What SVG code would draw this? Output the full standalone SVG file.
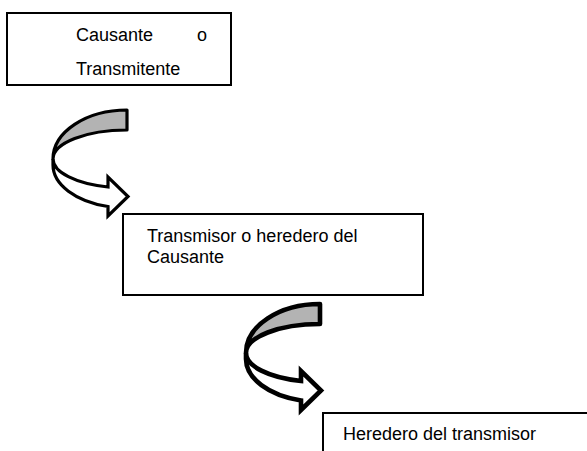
<svg xmlns="http://www.w3.org/2000/svg" width="587" height="451" viewBox="0 0 587 451">
<defs>
<style>
.box{fill:#fff;stroke:#000;stroke-width:2}
.t{font-family:"Liberation Sans",Arial,sans-serif;font-size:18px;fill:#000}
.back{fill:#b3b3b3;stroke:#000;stroke-linejoin:round}
.front{fill:#fff;stroke:#000;stroke-linejoin:miter}
.a1 path{stroke-width:3.2}
.a2 path{stroke-width:4.6}
</style>
</defs>
<g id="node1">
<rect class="box" x="7" y="13" width="224" height="72"/>
<text class="t" x="76" y="41">Causante</text>
<text class="t" x="197" y="41">o</text>
<text class="t" x="76" y="75">Transmitente</text>
</g>
<g id="node2">
<rect class="box" x="123" y="214" width="300" height="81"/>
<text class="t" x="147" y="242">Transmisor o heredero del</text>
<text class="t" x="147" y="263">Causante</text>
</g>
<g id="node3">
<rect class="box" x="323" y="413" width="290" height="60"/>
<text class="t" x="343" y="440">Heredero del transmisor</text>
</g>
<g id="connectors">
<g id="arrow1" class="a1">
<path class="back" d="M127,110 A74,49 0 0 0 53,159 A74,29 0 0 1 127,130 Z"/>
<path class="front" d="M53,159 L53,165 A74,43 0 0 0 108,206.5 L108,216 L128,196.5 L108,177 L108,187 A74,29 0 0 1 53,159 Z"/>
</g>
<g id="arrow2" class="a2" transform="translate(193,194)">
<path class="back" d="M127,110 A74,49 0 0 0 53,159 A74,29 0 0 1 127,130 Z"/>
<path class="front" d="M53,159 L53,165 A74,43 0 0 0 108,206.5 L108,216 L128,196.5 L108,177 L108,187 A74,29 0 0 1 53,159 Z"/>
</g>
</g>
</svg>
